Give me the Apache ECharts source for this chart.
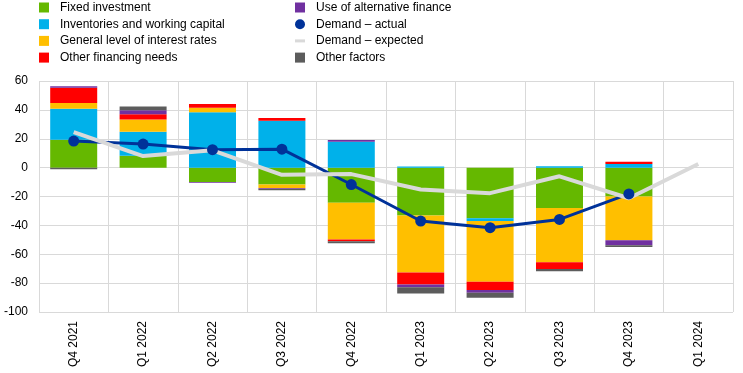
<!DOCTYPE html>
<html>
<head>
<meta charset="utf-8">
<script src="https://cdn.jsdelivr.net/npm/echarts@6/dist/echarts.min.js"></script>
<style>html,body{margin:0;padding:0;background:#fff}#c{width:743px;height:373px}</style>
</head>
<body>
<div id="c"></div>
<script>
var categories = ['Q4 2021','Q1 2022','Q2 2022','Q3 2022','Q4 2022','Q1 2023','Q2 2023','Q3 2023','Q4 2023','Q1 2024'];
var fixedInvestment = [19.3, 8.3, -9.9, -11.7, -24.4, -33.1, -35, -28, -20, null];
var inventories = [21.5, 16.5, 38.4, 32.4, 17.9, 0.8, -2, 0.9, 2.5, null];
var interestRates = [4, 8.5, 3, -2.6, -25.3, -39.5, -42, -37.5, -30.3, null];
var otherFinancing = [10.5, 3.7, 2.7, 2, -1.3, -8.3, -5.7, -4.8, 1.6, null];
var alternativeFinance = [1.1, 2.8, -0.5, -0.5, 1.2, -1.9, -2, 0, -3.5, null];
var otherFactors = [-1.2, 2.5, 0, -0.8, -1.4, -4.3, -3.4, -1.4, -1.2, null];
var demandActual = [18.4, 16.3, 12.4, 12.8, -11.7, -37, -41.6, -35.9, -18.2, null];
var demandExpected = [24.6, 8, 12, -5, -4.5, -15.2, -17.7, -6, -21.2, 2.5];
var yTicks = {min: -100, max: 60, interval: 20};

var font = 'Liberation Sans, Arial, sans-serif';
function bar(name, data, color) {
  return {name: name, type: 'bar', stack: 'total', data: data, barWidth: 47,
    itemStyle: {color: color}, emphasis: {disabled: true}};
}
var legendCommon = {orient: 'vertical', top: 1.5, padding: 0, itemWidth: 10, itemHeight: 10, itemGap: 4.7,
  textStyle: {fontSize: 12, color: '#000', fontFamily: font, padding: [0,0,0,6]}};
var chart = echarts.init(document.getElementById('c'), null, {renderer: 'canvas'});
chart.setOption({
  animation: false,
  textStyle: {fontFamily: font},
  grid: {left: 39, right: 10, top: 81, bottom: 61},
  legend: [
    Object.assign({left: 39, data: [
       {name: 'Fixed investment', icon: 'rect'},
       {name: 'Inventories and working capital', icon: 'rect'},
       {name: 'General level of interest rates', icon: 'rect'},
       {name: 'Other financing needs', icon: 'rect'}
     ]}, legendCommon),
    Object.assign({left: 295, data: [
       {name: 'Use of alternative finance', icon: 'rect'},
       {name: 'Demand – actual', icon: 'circle'},
       {name: 'Demand – expected', icon: 'path://M0,4L10,4L10,7L0,7Z'},
       {name: 'Other factors', icon: 'rect'}
     ]}, legendCommon)
  ],
  xAxis: {
    type: 'category', data: categories, boundaryGap: true,
    axisLine: {show: false, onZero: false},
    axisTick: {show: false},
    splitLine: {show: true, lineStyle: {color: '#d9d9d9', width: 1}},
    axisLabel: {rotate: 90, fontSize: 12, color: '#000', margin: 9, interval: 0, fontFamily: font}
  },
  yAxis: {
    type: 'value', min: yTicks.min, max: yTicks.max, interval: yTicks.interval,
    axisLine: {show: false}, axisTick: {show: false},
    splitLine: {lineStyle: {color: '#d9d9d9', width: 1}},
    axisLabel: {fontSize: 12, color: '#000', margin: 11, fontFamily: font}
  },
  series: [
    bar('Fixed investment', fixedInvestment, '#65b800'),
    bar('Inventories and working capital', inventories, '#00b1ea'),
    bar('General level of interest rates', interestRates, '#ffbf00'),
    bar('Other financing needs', otherFinancing, '#ff0000'),
    bar('Use of alternative finance', alternativeFinance, '#7030a0'),
    bar('Other factors', otherFactors, '#5c5c5c'),
    {name: 'Demand – actual', type: 'line', data: demandActual, symbol: 'circle', symbolSize: 11,
     lineStyle: {color: '#003299', width: 3}, itemStyle: {color: '#003299'}, emphasis: {disabled: true}},
    {name: 'Demand – expected', type: 'line', data: demandExpected, symbol: 'none',
     lineStyle: {color: '#d9d9d9', width: 4}, itemStyle: {color: '#d9d9d9'}, emphasis: {disabled: true}}
  ]
});
</script>
</body>
</html>
